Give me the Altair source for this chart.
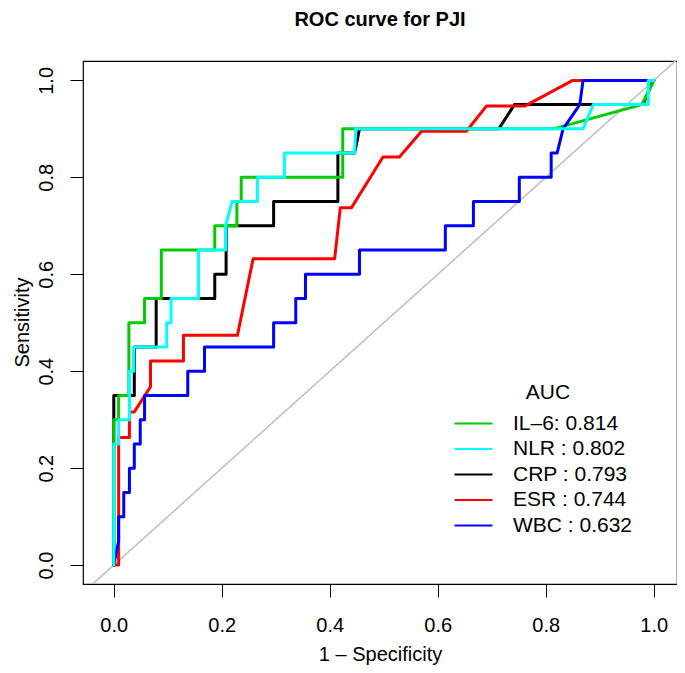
import altair as alt
import pandas as pd

# ---- data ----
labels = ["IL–6: 0.814", "NLR : 0.802", "CRP : 0.793", "ESR : 0.744", "WBC : 0.632"]
colors = ["#00CD00", "#00FFFF", "#000000", "#FF0000", "#0000FF"]

il6_x = [0, 0, 0.009, 0.009, 0.028, 0.028, 0.057, 0.057, 0.088, 0.088, 0.187, 0.187, 0.228, 0.228,
         0.236, 0.236, 0.424, 0.424, 0.814, 0.978, 1.0]
il6_y = [0, 0.30, 0.30, 0.35, 0.35, 0.50, 0.50, 0.55, 0.55, 0.65, 0.65, 0.70, 0.70, 0.75,
         0.75, 0.80, 0.80, 0.90, 0.90, 0.95, 1.0]

nlr_x = [0, 0, 0.009, 0.009, 0.029, 0.029, 0.037, 0.037, 0.098, 0.098, 0.106, 0.106, 0.157, 0.157,
         0.207, 0.207, 0.219, 0.266, 0.266, 0.316, 0.316, 0.446, 0.448, 0.869, 0.888, 0.990, 0.990, 1.0]
nlr_y = [0, 0.25, 0.25, 0.30, 0.30, 0.40, 0.40, 0.45, 0.45, 0.50, 0.50, 0.55, 0.55, 0.65,
         0.65, 0.70, 0.75, 0.75, 0.80, 0.80, 0.85, 0.85, 0.90, 0.90, 0.95, 0.95, 1.0, 1.0]

crp_x = [0, 0, 0.038, 0.038, 0.0785, 0.0785, 0.187, 0.187, 0.208, 0.208, 0.296, 0.296, 0.415, 0.415,
         0.446, 0.455, 0.713, 0.742, 0.98, 0.999, 1.0]
crp_y = [0, 0.35, 0.35, 0.45, 0.45, 0.55, 0.55, 0.60, 0.60, 0.70, 0.70, 0.75, 0.75, 0.85,
         0.85, 0.90, 0.90, 0.95, 0.95, 1.0, 1.0]

esr_x = [0, 0.009, 0.009, 0.029, 0.029, 0.038, 0.068, 0.068, 0.129, 0.129, 0.229, 0.258, 0.409, 0.4195,
         0.44, 0.4985, 0.529, 0.57, 0.653, 0.69, 0.761, 0.85, 1.0]
esr_y = [0, 0, 0.263, 0.263, 0.316, 0.316, 0.368, 0.421, 0.421, 0.474, 0.474, 0.632, 0.632, 0.737,
         0.737, 0.842, 0.842, 0.895, 0.895, 0.947, 0.947, 1.0, 1.0]

wbc_x = [0, 0.009, 0.009, 0.0185, 0.0185, 0.029, 0.029, 0.038, 0.038, 0.049, 0.049, 0.057, 0.057,
         0.137, 0.137, 0.168, 0.168, 0.296, 0.296, 0.337, 0.337, 0.355, 0.355, 0.455, 0.455,
         0.614, 0.614, 0.666, 0.666, 0.751, 0.751, 0.81, 0.81, 0.821, 0.832, 0.863, 0.869, 1.0]
wbc_y = [0, 0.05, 0.10, 0.10, 0.15, 0.15, 0.20, 0.20, 0.25, 0.25, 0.30, 0.30, 0.35,
         0.35, 0.40, 0.40, 0.45, 0.45, 0.50, 0.50, 0.55, 0.55, 0.60, 0.60, 0.65,
         0.65, 0.70, 0.70, 0.75, 0.75, 0.80, 0.80, 0.85, 0.85, 0.90, 0.95, 1.0, 1.0]

diag = [-0.2, 1.2]
x_ticks = [0.0, 0.2, 0.4, 0.6, 0.8, 1.0]
y_ticks = [0.0, 0.2, 0.4, 0.6, 0.8, 1.0]

series = {
    labels[0]: (il6_x, il6_y),
    labels[1]: (nlr_x, nlr_y),
    labels[2]: (crp_x, crp_y),
    labels[3]: (esr_x, esr_y),
    labels[4]: (wbc_x, wbc_y),
}

frames = {}
for name, (xs, ys) in series.items():
    assert len(xs) == len(ys), name
    frames[name] = pd.DataFrame({"test": name, "fpr": xs, "tpr": ys, "ord": range(len(xs))})

FONT = "Liberation Sans"

x_scale = alt.Scale(domain=[-0.057, 1.043], nice=False, zero=False)
y_scale = alt.Scale(domain=[-0.039, 1.04], nice=False, zero=False)

x_axis = alt.Axis(values=x_ticks, format=".1f", grid=False, domain=False, tickSize=13, tickWidth=1,
                  tickColor="black", labelFontSize=20, labelColor="black", labelFont=FONT,
                  labelPadding=18, labelBaseline="top", labelFlush=False,
                  title="1 – Specificity", titleFont=FONT, titleFontSize=20, titleFontWeight="normal",
                  titleColor="black", titleX=297, titleY=70, titleBaseline="middle", titleAlign="center")
y_axis = alt.Axis(values=y_ticks, format=".1f", grid=False, domain=False, tickSize=13, tickWidth=1,
                  tickColor="black", labelFontSize=20, labelColor="black", labelFont=FONT,
                  labelAngle=270, labelAlign="center", labelBaseline="middle", labelPadding=24,
                  labelFlush=False,
                  title="Sensitivity", titleFont=FONT, titleFontSize=20, titleFontWeight="normal",
                  titleColor="black", titleAngle=270, titleX=-61, titleY=261, titleBaseline="middle",
                  titleAlign="center")

legend = alt.Legend(title="AUC", orient="none", legendX=380, legendY=321, padding=0,
                    symbolType="M-2,0H2", symbolSize=360, symbolStrokeWidth=2,
                    symbolFillColor="transparent", symbolOffset=0,
                    labelFont=FONT, labelFontSize=21, labelColor="black", labelOffset=29,
                    titleFont=FONT, titleFontSize=21, titleFontWeight="normal", titleColor="black",
                    titleAnchor="middle", titlePadding=10, rowPadding=3.5)

color_scale = alt.Scale(domain=labels, range=colors)

diag_chart = alt.Chart(pd.DataFrame({"fpr": diag, "tpr": diag})).mark_line(
    color="#BEBEBE", strokeWidth=1.5, clip=True
).encode(
    x=alt.X("fpr:Q", scale=x_scale, axis=x_axis),
    y=alt.Y("tpr:Q", scale=y_scale, axis=y_axis),
)

draw_order = [labels[2], labels[0], labels[3], labels[4], labels[1]]
layers = [diag_chart]
for name in draw_order:
    layers.append(
        alt.Chart(frames[name]).mark_line(strokeWidth=3, strokeJoin="round", strokeCap="round").encode(
            x=alt.X("fpr:Q", scale=x_scale, axis=x_axis),
            y=alt.Y("tpr:Q", scale=y_scale, axis=y_axis),
            color=alt.Color("test:N", scale=color_scale, legend=legend),
            order=alt.Order("ord:Q"),
        )
    )

chart = alt.layer(*layers).properties(
    width=594, height=523,
    padding={"left": 75, "top": 53, "right": 0, "bottom": 81},
    autosize=alt.AutoSizeParams(type="none"),
    background="white",
    title=alt.Title("ROC curve for PJI", font=FONT, fontSize=20, fontWeight="bold", color="black",
                    anchor="middle", offset=15, baseline="alphabetic"),
).configure_view(stroke="black", strokeWidth=1.2)

chart.save("out.html", embed_options={"renderer": "svg", "actions": False})
